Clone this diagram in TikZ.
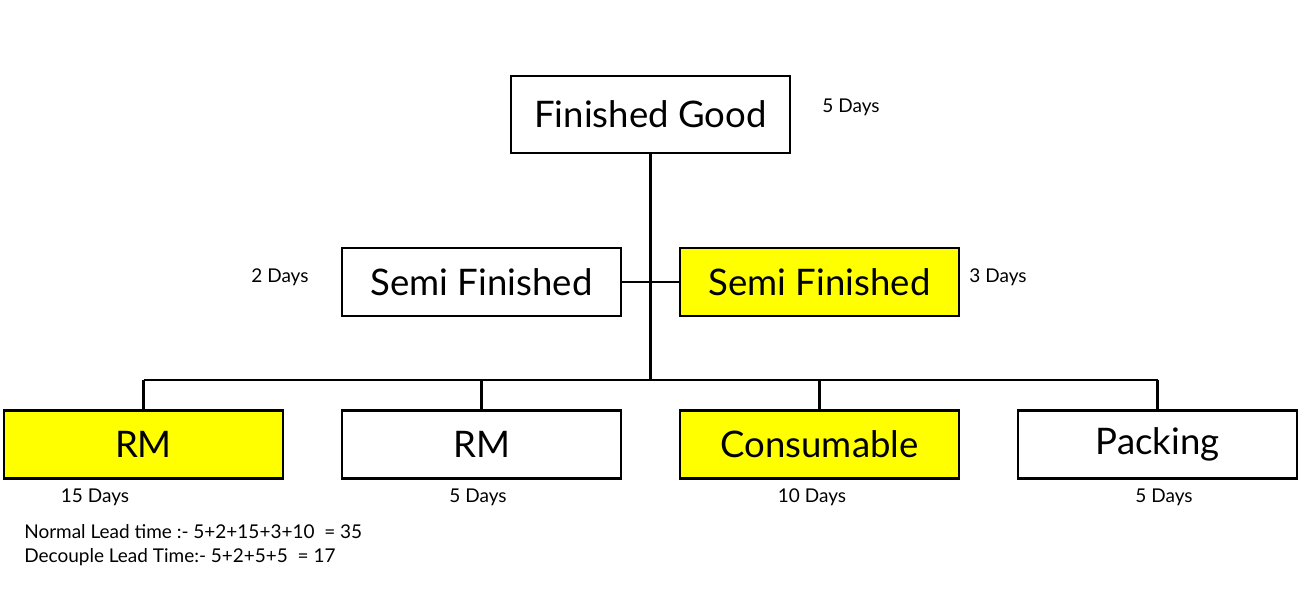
\documentclass[tikz,border=0pt]{standalone}
\usepackage{fontspec}
\setmainfont{Lato}
\usepackage{xcolor}
\usetikzlibrary{positioning}

\definecolor{hilite}{RGB}{255,255,0}

\begin{document}
\begin{tikzpicture}[
    x=0.025cm, y=-0.025cm,
    item/.style={
        rectangle,
        draw,
        line width=1.7pt,
        align=center,
        minimum width=6.975cm,
        minimum height=1.7cm,
        inner sep=0pt,
        font=\fontsize{26}{30}\selectfont
    },
    marked/.style={
        item,
        fill=hilite
    },
    days/.style={
        font=\fontsize{13.5}{16}\selectfont,
        inner sep=0pt
    },
    link/.style={
        line width=1.7pt
    }
]
\useasboundingbox (0,0) rectangle (1302,588);

% top level
\node[item, minimum height=1.925cm] (fg) at (650.5,114.5) {Finished Good};
\node[days] (dfg) at (851,107) {5 Days};

% semi finished level
\node[item] (sf1) at (481.5,282) {Semi Finished};
\node[marked] (sf2) at (819.5,282) {Semi Finished};
\node[days] (dsf1) at (280,277) {2 Days};
\node[days] (dsf2) at (998,277) {3 Days};

% bottom level
\node[marked] (rm1) at (143.5,444.5) {RM};
\node[item] (rm2) at (481.5,444.5) {RM};
\node[marked] (cons) at (819.5,444.5) {Consumable};
\node[item] (pack) at (1157.5,444.5) {Packing};
\node[days] (drm1) at (95,497) {15 Days};
\node[days] (drm2) at (478,497) {5 Days};
\node[days] (dcons) at (812,497) {10 Days};
\node[days] (dpack) at (1164,497) {5 Days};

% connectors
\coordinate (bus) at (650,380);
\draw[link] (fg.south) -- (fg.south |- bus);
\draw[link] (sf1.east) -- (sf2.west);
\draw[link] (rm1.north |- bus) -- (pack.north |- bus);
\foreach \n in {rm1,rm2,cons,pack}
    \draw[link] (\n.north) -- (\n.north |- bus);

% summary
\node[days, anchor=west] (normal) at (24,532) {Normal Lead time :- 5+2+15+3+10 \ = 35};
\node[days, anchor=west] (decouple) at (24,557) {Decouple Lead Time:- 5+2+5+5 \ = 17};

\end{tikzpicture}
\end{document}
